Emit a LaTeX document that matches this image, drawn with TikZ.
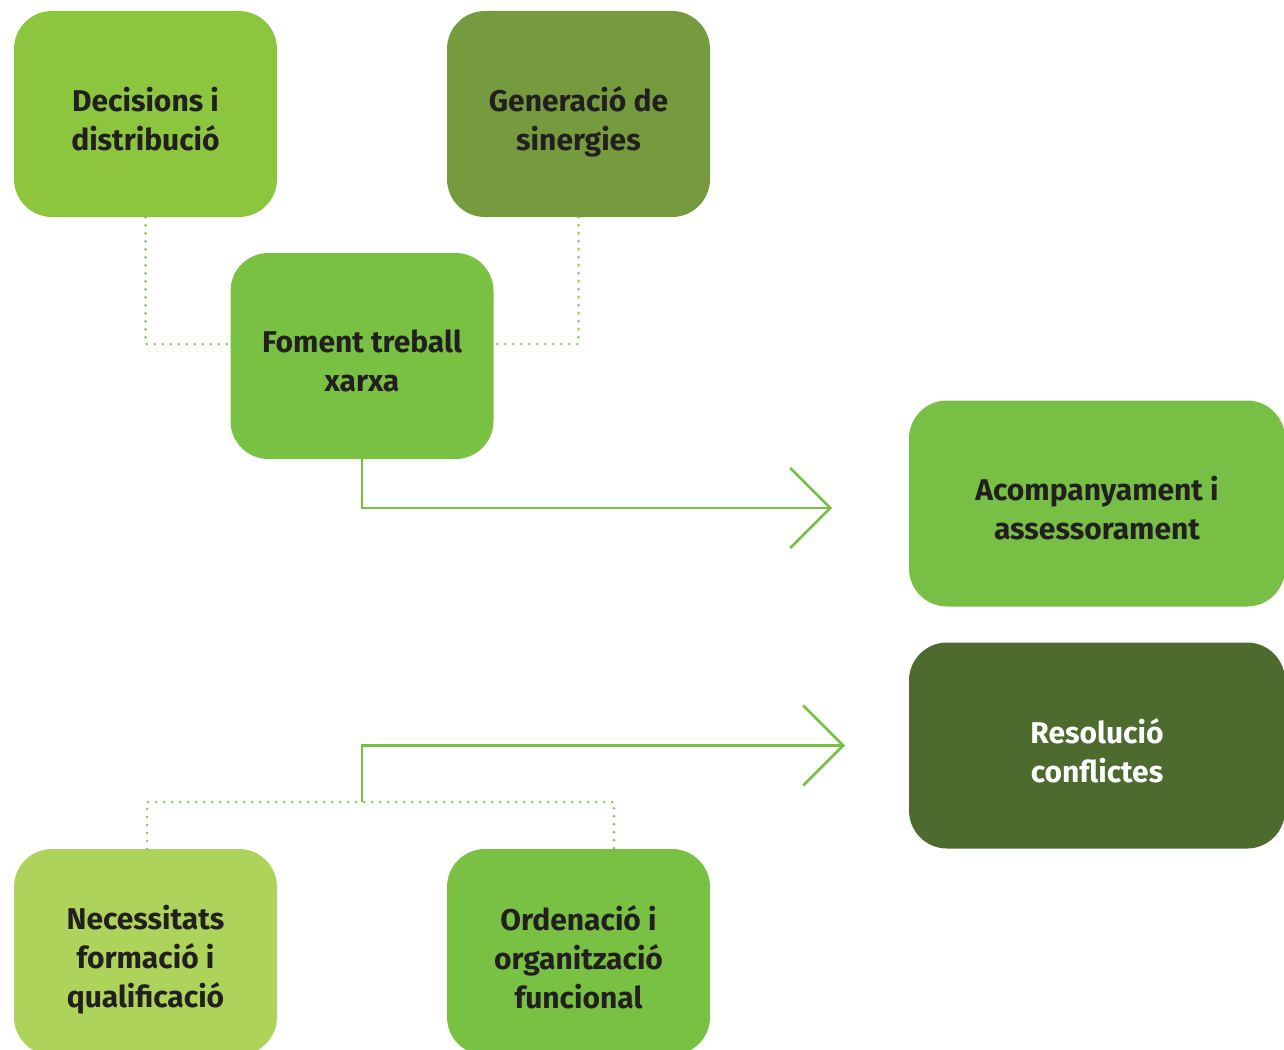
\documentclass[tikz,border=0pt]{standalone}
\usepackage{fontspec}
\setmainfont{Fira Sans}
\usetikzlibrary{arrows.meta}
\definecolor{ink}{HTML}{231F20}
\definecolor{gDec}{HTML}{8CC63F}
\definecolor{gGen}{HTML}{759B3E}
\definecolor{gMid}{HTML}{79C143}
\definecolor{gAcc}{HTML}{77BF45}
\definecolor{gRes}{HTML}{4E6B2F}
\definecolor{gNec}{HTML}{AED35A}
\definecolor{gLine}{HTML}{78C043}
\begin{document}
\begin{tikzpicture}[x=1pt,y=-1pt,
  card/.style={rounded corners=38pt, minimum width=263pt, minimum height=206pt,
    inner sep=0pt},
  wide/.style={card, minimum width=376pt},
  cardtext/.style={align=center, text=ink, yshift=-5pt,
    font=\fontsize{30}{39}\selectfont\bfseries},
  % last line with a descender sits a little lower
  desc/.style={yshift=-3pt},
  dots/.style={draw=gLine, line width=2.6pt, dash pattern=on 0pt off 8pt, line cap=round},
  flow/.style={draw=gLine, line width=2.6pt,
    -{Straight Barb[length=40pt, width=80pt, line width=2.6pt]}}]
\useasboundingbox (0,0) rectangle (1284,1049);
\clip (0,0) rectangle (1284,1049);

% upper row
\node[card, fill=gDec, label={[cardtext, name=decT]center:Decisions i\\distribució}] (dec) at (145.5,114) {};
\node[card, fill=gGen, label={[cardtext, desc, name=genT]center:Generació de\\sinergies}] (gen) at (578.5,114) {};
\node[card, fill=gMid, label={[cardtext, name=fomT]center:Foment treball\\xarxa}] (fom) at (362,356) {};

% right column
\node[wide, fill=gAcc, label={[cardtext, name=accT]center:Acompanyament i\\assessorament}] (acc) at (1097,503.5) {};
\node[wide, fill=gRes, label={[cardtext, text=white, name=resT]center:Resolució\\conflictes}] (res) at (1097,745.5) {};

% lower row
\node[card, fill=gNec, label={[cardtext, desc, name=necT]center:Necessitats\\formació i\\qualificació}] (nec) at (145.5,952) {};
\node[card, fill=gMid, label={[cardtext, name=ordT]center:Ordenació i\\organització\\funcional}] (ord) at (578.5,952) {};

% dotted links into the central card
\draw[dots] (dec.south) |- ([yshift=12pt]fom.west);
\draw[dots] (gen.south) |- ([yshift=12pt]fom.east);

% dotted bracket over the lower row
\coordinate (join) at (362,802);
\draw[dots] ([xshift=1.5pt]nec.north) |- (join) -| ([xshift=35.5pt]ord.north);

% arrows towards the right column
\coordinate (tipA) at (832,508);
\coordinate (tipB) at (845,745.5);
\draw[flow] (fom.south) |- (tipA);
\draw[flow] (join) |- (tipB);
\end{tikzpicture}
\end{document}
